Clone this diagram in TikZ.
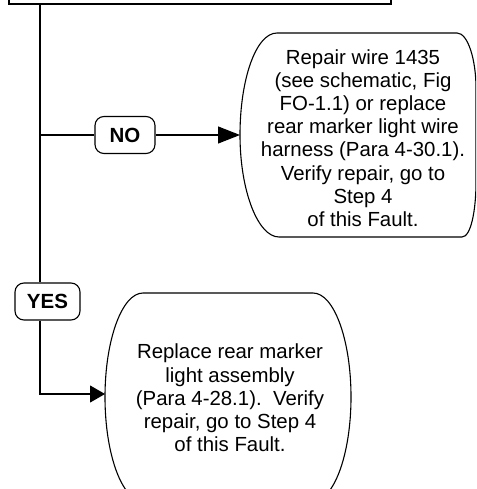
\documentclass[tikz,border=0pt]{standalone}
\usepackage{fontspec}
\setmainfont{Liberation Sans}
\usetikzlibrary{arrows.meta}

\tikzset{
  answer/.style={draw, rounded corners=9pt, inner sep=0pt, minimum height=37pt,
    font=\fontsize{20.5}{24}\selectfont\bfseries},
  action/.style={align=center, inner sep=0pt, font=\fontsize{20.4}{23.2}\selectfont},
}

\begin{document}
\begin{tikzpicture}[x=1pt, y=-1pt, line width=1.1pt,
    >={Triangle[length=22pt, width=17pt]}]

  \useasboundingbox (0,0) rectangle (476,489);
  \clip (0,0) rectangle (476,489);

  % question box, mostly above the page
  \node[draw, minimum width=382pt, minimum height=60pt] (check) at (200,-26) {};

  \coordinate (trunk) at (40,0);

  \node[answer, minimum width=60pt] (no)  at (125,135)   {NO};
  \node[answer, minimum width=65pt] (yes) at (47.5,301.5) {YES};

  % NO branch
  \node[action] (fixwire) at (363,138) {%
    Repair wire 1435\\
    (see schematic, Fig\\
    FO-1.1) or replace\\
    rear marker light wire\\
    harness (Para 4-30.1).\\
    Verify repair, go to\\
    Step 4\\
    of this Fault.};
  \draw (277,33) -- (457,33) .. controls (468,33) and (476,60) .. (476,88)
        -- (476,182) .. controls (476,210) and (471,237) .. (462,237)
        -- (279,237) .. controls (258,237) and (240,191) .. (240,135)
        .. controls (240,79) and (256,33) .. cycle;
  \coordinate (fixwire-in) at (240,135);

  % YES branch
  \node[action] (replace) at (230,398) {%
    Replace rear marker\\
    light assembly\\
    (Para 4-28.1).\ \ Verify\\
    repair, go to Step 4\\
    of this Fault.};
  \draw (143,293) -- (313,293) .. controls (334,293) and (351,340) .. (351,397)
        .. controls (351,454) and (334,501) .. (313,501)
        -- (143,501) .. controls (122,501) and (105,454) .. (105,397)
        .. controls (105,340) and (122,293) .. cycle;
  \coordinate (replace-in) at (105,394);

  \draw (check.south -| trunk) -- (yes.north -| trunk);
  \draw (no.west -| trunk) -- (no);
  \draw[->] (no) -- (fixwire-in);
  \draw[-{Triangle[length=15pt, width=17pt]}] (yes.south -| trunk) |- (replace-in);

\end{tikzpicture}
\end{document}
